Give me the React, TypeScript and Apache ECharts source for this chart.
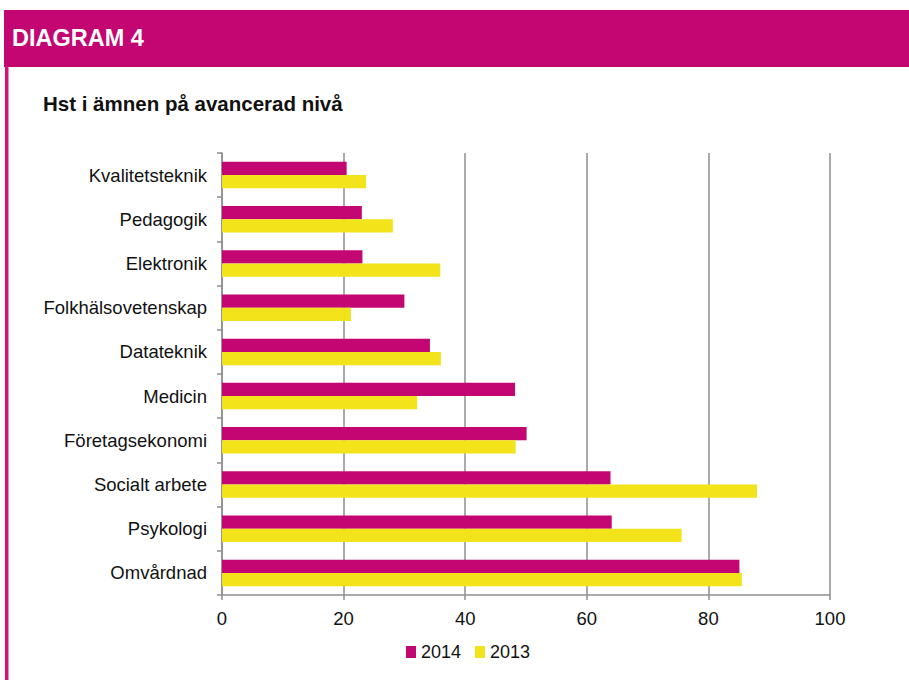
import React, { useEffect, useRef } from "react";
import * as echarts from "echarts";

const categories = [
  "Kvalitetsteknik",
  "Pedagogik",
  "Elektronik",
  "Folkhälsovetenskap",
  "Datateknik",
  "Medicin",
  "Företagsekonomi",
  "Socialt arbete",
  "Psykologi",
  "Omvårdnad",
];
const values2014 = [20.5, 23.0, 23.1, 30.0, 34.2, 48.2, 50.1, 63.9, 64.1, 85.1];
const values2013 = [23.7, 28.1, 35.9, 21.2, 36.0, 32.1, 48.3, 88.0, 75.6, 85.5];
const xTicks = [0, 20, 40, 60, 80, 100];

const PINK = "#C30672";
const YELLOW = "#F2E31A";
const GRID = "#8E8E8E";
const FONT = "'Liberation Sans', Arial, sans-serif";

export default function App() {
  const ref = useRef<HTMLDivElement>(null);
  useEffect(() => {
    if (!ref.current) return;
    const chart = echarts.init(ref.current, null, { renderer: "svg" });
    chart.setOption({
      animation: false,
      backgroundColor: "#ffffff",
      textStyle: { fontFamily: FONT },
      graphic: [
        { type: "rect", shape: { x: 4, y: 10, width: 905, height: 57 }, style: { fill: PINK }, silent: true },
        { type: "rect", shape: { x: 5, y: 66, width: 3.5, height: 614 }, style: { fill: "#D4107F" }, silent: true },
      ],
      title: [
        {
          text: "DIAGRAM 4",
          left: 12,
          top: 26,
          padding: 0,
          textStyle: { color: "#ffffff", fontSize: 23.5, fontWeight: "bold", fontFamily: FONT },
        },
        {
          text: "Hst i ämnen på avancerad nivå",
          left: 43,
          top: 93,
          padding: 0,
          textStyle: { color: "#111111", fontSize: 20.5, fontWeight: "bold", fontFamily: FONT },
        },
      ],
      legend: {
        left: 406,
        top: 643,
        padding: 0,
        icon: "rect",
        itemWidth: 10,
        itemHeight: 12,
        itemGap: 14,
        textStyle: { fontSize: 18, color: "#111111", fontFamily: FONT },
        data: ["2014", "2013"],
      },
      grid: { left: 222, right: 79, top: 153, bottom: 85, containLabel: false },
      xAxis: {
        type: "value",
        min: xTicks[0],
        max: xTicks[xTicks.length - 1],
        interval: 20,
        axisLine: { show: true, lineStyle: { color: GRID, width: 1.5 } },
        axisTick: { show: true, length: 5, lineStyle: { color: GRID, width: 1.5 } },
        splitLine: { show: true, lineStyle: { color: GRID, width: 1.5 } },
        axisLabel: { fontSize: 18.5, color: "#111111", margin: 14, fontFamily: FONT },
      },
      yAxis: {
        type: "category",
        data: categories,
        inverse: true,
        axisLine: { show: true, lineStyle: { color: GRID, width: 1.5 } },
        axisTick: { show: true, length: 5, alignWithLabel: false, lineStyle: { color: GRID, width: 1.5 } },
        axisLabel: { fontSize: 18.5, color: "#111111", margin: 15, fontFamily: FONT },
      },
      series: [
        {
          name: "2014",
          type: "bar",
          data: values2014,
          itemStyle: { color: PINK },
          barGap: "0%",
          barCategoryGap: "40%",
        },
        {
          name: "2013",
          type: "bar",
          data: values2013,
          itemStyle: { color: YELLOW },
          barGap: "0%",
          barCategoryGap: "40%",
        },
      ],
    });
    return () => chart.dispose();
  }, []);
  return (
    <div
      ref={ref}
      style={{ position: "absolute", left: 0, top: 0, width: 909, height: 680 }}
    />
  );
}
